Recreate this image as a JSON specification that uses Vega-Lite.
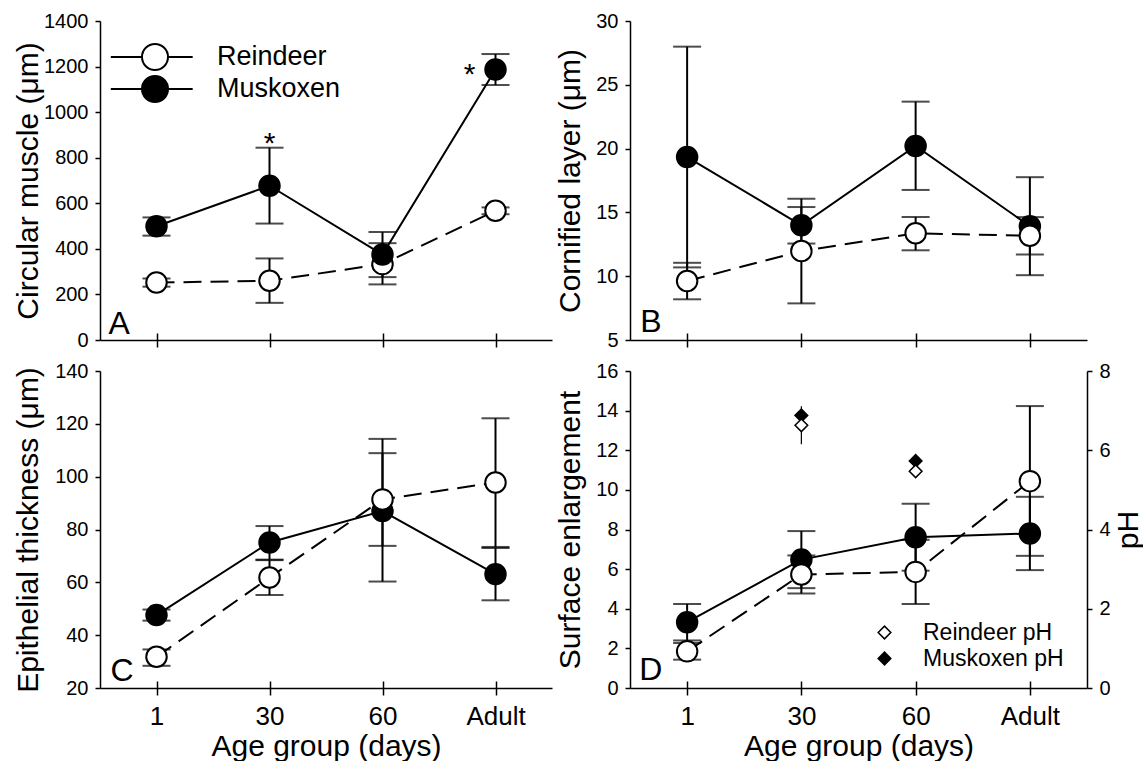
{
  "$schema": "https://vega.github.io/schema/vega-lite/v6.json",
  "background": "white",
  "padding": {"left": 13, "top": 11, "right": 0, "bottom": 0},
  "bounds": "flush",
  "align": "each",
  "columns": 2,
  "spacing": {"row": 31, "column": 78},
  "datasets": {
    "A": [
      {"age": "1", "species": "Reindeer", "mean": 252, "lo": 234, "hi": 270},
      {"age": "30", "species": "Reindeer", "mean": 260, "lo": 163, "hi": 358},
      {"age": "60", "species": "Reindeer", "mean": 333, "lo": 244, "hi": 425},
      {"age": "Adult", "species": "Reindeer", "mean": 567, "lo": 552, "hi": 582},
      {"age": "1", "species": "Muskoxen", "mean": 499, "lo": 458, "hi": 538},
      {"age": "30", "species": "Muskoxen", "mean": 677, "lo": 511, "hi": 844, "sig": "*"},
      {"age": "60", "species": "Muskoxen", "mean": 375, "lo": 276, "hi": 474},
      {"age": "Adult", "species": "Muskoxen", "mean": 1187, "lo": 1119, "hi": 1255, "sig": "*"}
    ],
    "B": [
      {"age": "1", "species": "Reindeer", "mean": 9.62, "lo": 8.19, "hi": 11.05},
      {"age": "30", "species": "Reindeer", "mean": 11.97, "lo": 7.87, "hi": 16.07},
      {"age": "60", "species": "Reindeer", "mean": 13.36, "lo": 12.03, "hi": 14.64},
      {"age": "Adult", "species": "Reindeer", "mean": 13.17, "lo": 11.7, "hi": 14.63},
      {"age": "1", "species": "Muskoxen", "mean": 19.34, "lo": 10.69, "hi": 27.99},
      {"age": "30", "species": "Muskoxen", "mean": 13.99, "lo": 12.56, "hi": 15.42},
      {"age": "60", "species": "Muskoxen", "mean": 20.2, "lo": 16.76, "hi": 23.68},
      {"age": "Adult", "species": "Muskoxen", "mean": 13.92, "lo": 10.08, "hi": 17.76}
    ],
    "C": [
      {"age": "1", "species": "Reindeer", "mean": 31.8, "lo": 28.4, "hi": 34.6},
      {"age": "30", "species": "Reindeer", "mean": 61.8, "lo": 55.2, "hi": 68.4},
      {"age": "60", "species": "Reindeer", "mean": 91.4, "lo": 73.8, "hi": 108.9},
      {"age": "Adult", "species": "Reindeer", "mean": 97.8, "lo": 73.4, "hi": 122.1},
      {"age": "1", "species": "Muskoxen", "mean": 47.6, "lo": 45.5, "hi": 49.7},
      {"age": "30", "species": "Muskoxen", "mean": 75.1, "lo": 68.6, "hi": 81.3},
      {"age": "60", "species": "Muskoxen", "mean": 87.0, "lo": 60.3, "hi": 114.3},
      {"age": "Adult", "species": "Muskoxen", "mean": 63.1, "lo": 53.2, "hi": 73.0}
    ],
    "D": [
      {"age": "1", "species": "Reindeer", "mean": 1.85, "lo": 1.43, "hi": 2.27},
      {"age": "30", "species": "Reindeer", "mean": 5.73, "lo": 4.77, "hi": 6.69},
      {"age": "60", "species": "Reindeer", "mean": 5.86, "lo": 4.24, "hi": 7.48},
      {"age": "Adult", "species": "Reindeer", "mean": 10.44, "lo": 6.67, "hi": 14.23},
      {"age": "1", "species": "Muskoxen", "mean": 3.32, "lo": 2.4, "hi": 4.24},
      {"age": "30", "species": "Muskoxen", "mean": 6.48, "lo": 5.04, "hi": 7.92},
      {"age": "60", "species": "Muskoxen", "mean": 7.61, "lo": 5.92, "hi": 9.3},
      {"age": "Adult", "species": "Muskoxen", "mean": 7.8, "lo": 5.95, "hi": 9.65}
    ],
    "PH": [
      {"age": "30", "series": "Muskoxen pH", "ph": 6.88},
      {"age": "30", "series": "Reindeer pH", "ph": 6.63, "lo": 6.15, "hi": 7.11},
      {"age": "60", "series": "Muskoxen pH", "ph": 5.73},
      {"age": "60", "series": "Reindeer pH", "ph": 5.47}
    ]
  },
  "concat": [
    {
      "width": 452, "height": 319,
      "data": {"name": "A"},
      "resolve": {"axis": {"x": "independent", "y": "independent"}},
      "layer": [
        {"mark": {"type": "rule", "strokeWidth": 2, "color": "black"},
         "encoding": {
           "x": {"field": "age", "type": "ordinal", "scale": {"type": "point", "domain": ["1", "30", "60", "Adult"], "padding": 0.5}, "axis": {"orient": "bottom", "labels": false, "title": null, "tickSize": 7}},
           "y": {"field": "lo", "type": "quantitative", "scale": {"domain": [0, 1400], "nice": false}, "axis": {"orient": "left", "format": "d", "values": [0, 200, 400, 600, 800, 1000, 1200, 1400], "title": "Circular muscle (μm)", "titleX": -63, "titleBaseline": "alphabetic"}},
           "y2": {"field": "hi"}}},
        {"mark": {"type": "tick", "size": 28, "thickness": 2, "color": "black"},
         "encoding": {
           "x": {"field": "age", "type": "ordinal", "axis": {"orient": "bottom", "tickSize": -7, "labels": false, "domain": false, "title": null}},
           "y": {"field": "lo", "type": "quantitative", "axis": null}}},
        {"mark": {"type": "tick", "size": 28, "thickness": 2, "color": "black"},
         "encoding": {
           "x": {"field": "age", "type": "ordinal", "axis": null},
           "y": {"field": "hi", "type": "quantitative", "axis": null}}},
        {"transform": [{"filter": "datum.species === 'Reindeer'"}],
         "mark": {"type": "line", "strokeWidth": 2, "color": "black", "strokeDash": [18, 9]},
         "encoding": {
           "x": {"field": "age", "type": "ordinal", "axis": null},
           "y": {"field": "mean", "type": "quantitative", "axis": null}}},
        {"transform": [{"filter": "datum.species === 'Muskoxen'"}],
         "mark": {"type": "line", "strokeWidth": 2, "color": "black"},
         "encoding": {
           "x": {"field": "age", "type": "ordinal", "axis": null},
           "y": {"field": "mean", "type": "quantitative", "axis": null}}},
        {"mark": {"type": "point", "shape": "circle", "filled": true, "size": 420, "stroke": "black", "strokeWidth": 2, "opacity": 1},
         "encoding": {
           "x": {"field": "age", "type": "ordinal", "axis": null},
           "y": {"field": "mean", "type": "quantitative", "axis": null},
           "order": {"field": "species", "sort": "descending"},
           "fill": {"field": "species", "type": "nominal", "scale": {"domain": ["Reindeer", "Muskoxen"], "range": ["white", "black"]},
             "legend": {"orient": "none", "legendX": 41, "legendY": 22, "title": null, "padding": 0, "symbolSize": 676, "symbolType": "M-3.4,0L-1,0M1,0L2.9,0M1,0A1,1,0,1,1,-1,0A1,1,0,1,1,1,0Z", "symbolStrokeColor": "black", "symbolStrokeWidth": 2, "labelFontSize": 27, "labelColor": "black", "labelOffset": 48, "rowPadding": -2}}}},
        {"transform": [{"filter": "datum.sig && datum.age === '30'"}],
         "mark": {"type": "text", "fontSize": 30, "align": "center", "baseline": "alphabetic", "dy": 5, "color": "black"},
         "encoding": {
           "x": {"field": "age", "type": "ordinal", "axis": null},
           "y": {"field": "hi", "type": "quantitative", "axis": null},
           "text": {"field": "sig"}}},
        {"transform": [{"filter": "datum.sig && datum.age === 'Adult'"}],
         "mark": {"type": "text", "fontSize": 30, "align": "center", "baseline": "alphabetic", "dx": -26, "dy": 14, "color": "black"},
         "encoding": {
           "x": {"field": "age", "type": "ordinal", "axis": null},
           "y": {"field": "mean", "type": "quantitative", "axis": null},
           "text": {"field": "sig"}}},
        {"data": {"values": [{"letter": "A"}]},
         "mark": {"type": "text", "fontSize": 32, "align": "left", "baseline": "alphabetic", "dx": -48, "dy": -6, "color": "black"},
         "encoding": {
           "x": {"datum": "1", "type": "ordinal", "axis": null},
           "y": {"datum": 0, "type": "quantitative", "axis": null},
           "text": {"field": "letter"}}}
      ]
    },
    {
      "width": 457, "height": 319,
      "data": {"name": "B"},
      "resolve": {"axis": {"x": "independent", "y": "independent"}},
      "layer": [
        {"mark": {"type": "rule", "strokeWidth": 2, "color": "black"},
         "encoding": {
           "x": {"field": "age", "type": "ordinal", "scale": {"type": "point", "domain": ["1", "30", "60", "Adult"], "padding": 0.5}, "axis": {"orient": "bottom", "labels": false, "title": null, "tickSize": 7}},
           "y": {"field": "lo", "type": "quantitative", "scale": {"domain": [5, 30], "nice": false, "zero": false}, "axis": {"orient": "left", "values": [5, 10, 15, 20, 25, 30], "title": "Cornified layer (μm)", "titleX": -51, "titleBaseline": "alphabetic"}},
           "y2": {"field": "hi"}}},
        {"mark": {"type": "tick", "size": 28, "thickness": 2, "color": "black"},
         "encoding": {
           "x": {"field": "age", "type": "ordinal", "axis": {"orient": "bottom", "tickSize": -7, "labels": false, "domain": false, "title": null}},
           "y": {"field": "lo", "type": "quantitative", "axis": null}}},
        {"mark": {"type": "tick", "size": 28, "thickness": 2, "color": "black"},
         "encoding": {
           "x": {"field": "age", "type": "ordinal", "axis": null},
           "y": {"field": "hi", "type": "quantitative", "axis": null}}},
        {"transform": [{"filter": "datum.species === 'Reindeer'"}],
         "mark": {"type": "line", "strokeWidth": 2, "color": "black", "strokeDash": [18, 9]},
         "encoding": {
           "x": {"field": "age", "type": "ordinal", "axis": null},
           "y": {"field": "mean", "type": "quantitative", "axis": null}}},
        {"transform": [{"filter": "datum.species === 'Muskoxen'"}],
         "mark": {"type": "line", "strokeWidth": 2, "color": "black"},
         "encoding": {
           "x": {"field": "age", "type": "ordinal", "axis": null},
           "y": {"field": "mean", "type": "quantitative", "axis": null}}},
        {"mark": {"type": "point", "shape": "circle", "filled": true, "size": 420, "stroke": "black", "strokeWidth": 2, "opacity": 1},
         "encoding": {
           "x": {"field": "age", "type": "ordinal", "axis": null},
           "y": {"field": "mean", "type": "quantitative", "axis": null},
           "order": {"field": "species", "sort": "ascending"},
           "fill": {"field": "species", "type": "nominal", "scale": {"domain": ["Reindeer", "Muskoxen"], "range": ["white", "black"]}, "legend": null}}},
        {"data": {"values": [{"letter": "B"}]},
         "mark": {"type": "text", "fontSize": 32, "align": "left", "baseline": "alphabetic", "dx": -47, "dy": -8, "color": "black"},
         "encoding": {
           "x": {"datum": "1", "type": "ordinal", "axis": null},
           "y": {"datum": 5, "type": "quantitative", "axis": null},
           "text": {"field": "letter"}}}
      ]
    },
    {
      "width": 452, "height": 317,
      "data": {"name": "C"},
      "resolve": {"axis": {"x": "independent", "y": "independent"}},
      "layer": [
        {"mark": {"type": "rule", "strokeWidth": 2, "color": "black"},
         "encoding": {
           "x": {"field": "age", "type": "ordinal", "scale": {"type": "point", "domain": ["1", "30", "60", "Adult"], "padding": 0.5}, "axis": {"orient": "bottom", "title": "Age group (days)", "tickSize": 7, "labelAngle": 0, "labelFontSize": 26, "labelPadding": 8, "titlePadding": 2}},
           "y": {"field": "lo", "type": "quantitative", "scale": {"domain": [20, 140], "nice": false, "zero": false}, "axis": {"orient": "left", "values": [20, 40, 60, 80, 100, 120, 140], "title": "Epithelial thickness (μm)", "titleX": -63, "titleBaseline": "alphabetic"}},
           "y2": {"field": "hi"}}},
        {"mark": {"type": "tick", "size": 28, "thickness": 2, "color": "black"},
         "encoding": {
           "x": {"field": "age", "type": "ordinal", "axis": {"orient": "bottom", "tickSize": -7, "labels": false, "domain": false, "title": null}},
           "y": {"field": "lo", "type": "quantitative", "axis": null}}},
        {"mark": {"type": "tick", "size": 28, "thickness": 2, "color": "black"},
         "encoding": {
           "x": {"field": "age", "type": "ordinal", "axis": null},
           "y": {"field": "hi", "type": "quantitative", "axis": null}}},
        {"transform": [{"filter": "datum.species === 'Reindeer'"}],
         "mark": {"type": "line", "strokeWidth": 2, "color": "black", "strokeDash": [18, 9]},
         "encoding": {
           "x": {"field": "age", "type": "ordinal", "axis": null},
           "y": {"field": "mean", "type": "quantitative", "axis": null}}},
        {"transform": [{"filter": "datum.species === 'Muskoxen'"}],
         "mark": {"type": "line", "strokeWidth": 2, "color": "black"},
         "encoding": {
           "x": {"field": "age", "type": "ordinal", "axis": null},
           "y": {"field": "mean", "type": "quantitative", "axis": null}}},
        {"mark": {"type": "point", "shape": "circle", "filled": true, "size": 420, "stroke": "black", "strokeWidth": 2, "opacity": 1},
         "encoding": {
           "x": {"field": "age", "type": "ordinal", "axis": null},
           "y": {"field": "mean", "type": "quantitative", "axis": null},
           "order": {"field": "species", "sort": "ascending"},
           "fill": {"field": "species", "type": "nominal", "scale": {"domain": ["Reindeer", "Muskoxen"], "range": ["white", "black"]}, "legend": null}}},
        {"data": {"values": [{"letter": "C"}]},
         "mark": {"type": "text", "fontSize": 32, "align": "left", "baseline": "alphabetic", "dx": -46, "dy": -7, "color": "black"},
         "encoding": {
           "x": {"datum": "1", "type": "ordinal", "axis": null},
           "y": {"datum": 20, "type": "quantitative", "axis": null},
           "text": {"field": "letter"}}}
      ]
    },
    {
      "width": 457, "height": 317,
      "data": {"name": "D"},
      "resolve": {"scale": {"y": "independent", "fill": "independent"}, "axis": {"x": "independent", "y": "independent"}},
      "layer": [
        {"mark": {"type": "rule", "strokeWidth": 2, "color": "black"},
         "encoding": {
           "x": {"field": "age", "type": "ordinal", "scale": {"type": "point", "domain": ["1", "30", "60", "Adult"], "padding": 0.5}, "axis": {"orient": "bottom", "title": "Age group (days)", "tickSize": 7, "labelAngle": 0, "labelFontSize": 26, "labelPadding": 8, "titlePadding": 2}},
           "y": {"field": "lo", "type": "quantitative", "scale": {"domain": [0, 16], "nice": false}, "axis": {"orient": "left", "values": [0, 2, 4, 6, 8, 10, 12, 14, 16], "title": "Surface enlargement", "titleX": -51, "titleBaseline": "alphabetic"}},
           "y2": {"field": "hi"}}},
        {"mark": {"type": "tick", "size": 28, "thickness": 2, "color": "black"},
         "encoding": {
           "x": {"field": "age", "type": "ordinal", "axis": {"orient": "bottom", "tickSize": -7, "labels": false, "domain": false, "title": null}},
           "y": {"field": "lo", "type": "quantitative", "scale": {"domain": [0, 16], "nice": false}, "axis": null}}},
        {"mark": {"type": "tick", "size": 28, "thickness": 2, "color": "black"},
         "encoding": {
           "x": {"field": "age", "type": "ordinal", "axis": null},
           "y": {"field": "hi", "type": "quantitative", "scale": {"domain": [0, 16], "nice": false}, "axis": null}}},
        {"transform": [{"filter": "datum.species === 'Reindeer'"}],
         "mark": {"type": "line", "strokeWidth": 2, "color": "black", "strokeDash": [18, 9]},
         "encoding": {
           "x": {"field": "age", "type": "ordinal", "axis": null},
           "y": {"field": "mean", "type": "quantitative", "scale": {"domain": [0, 16], "nice": false}, "axis": null}}},
        {"transform": [{"filter": "datum.species === 'Muskoxen'"}],
         "mark": {"type": "line", "strokeWidth": 2, "color": "black"},
         "encoding": {
           "x": {"field": "age", "type": "ordinal", "axis": null},
           "y": {"field": "mean", "type": "quantitative", "scale": {"domain": [0, 16], "nice": false}, "axis": null}}},
        {"mark": {"type": "point", "shape": "circle", "filled": true, "size": 420, "stroke": "black", "strokeWidth": 2, "opacity": 1},
         "encoding": {
           "x": {"field": "age", "type": "ordinal", "axis": null},
           "y": {"field": "mean", "type": "quantitative", "scale": {"domain": [0, 16], "nice": false}, "axis": null},
           "order": {"field": "species", "sort": "ascending"},
           "fill": {"field": "species", "type": "nominal", "scale": {"domain": ["Reindeer", "Muskoxen"], "range": ["white", "black"]}, "legend": null}}},
        {"data": {"values": [{"letter": "D"}]},
         "mark": {"type": "text", "fontSize": 32, "align": "left", "baseline": "alphabetic", "dx": -48, "dy": -8, "color": "black"},
         "encoding": {
           "x": {"datum": "1", "type": "ordinal", "axis": null},
           "y": {"datum": 0, "type": "quantitative", "scale": {"domain": [0, 16], "nice": false}, "axis": null},
           "text": {"field": "letter"}}},
        {"data": {"name": "PH"},
         "transform": [{"filter": "isValid(datum.lo)"}],
         "mark": {"type": "rule", "strokeWidth": 1.2, "color": "black"},
         "encoding": {
           "x": {"field": "age", "type": "ordinal", "axis": null},
           "y": {"field": "lo", "type": "quantitative", "scale": {"domain": [0, 8], "nice": false}, "axis": null},
           "y2": {"field": "hi"}}},
        {"data": {"name": "PH"},
         "mark": {"type": "point", "shape": "diamond", "filled": true, "size": 160, "stroke": "black", "strokeWidth": 1.5, "opacity": 1},
         "encoding": {
           "x": {"field": "age", "type": "ordinal", "axis": null},
           "y": {"field": "ph", "type": "quantitative", "scale": {"domain": [0, 8], "nice": false}, "axis": {"orient": "right", "values": [0, 2, 4, 6, 8], "title": "pH", "titleAngle": 270, "titleX": 50, "titleBaseline": "alphabetic"}},
           "order": {"field": "series", "sort": "ascending"},
           "fill": {"field": "series", "type": "nominal", "scale": {"domain": ["Reindeer pH", "Muskoxen pH"], "range": ["white", "black"]},
             "legend": {"orient": "none", "legendX": 243, "legendY": 250, "title": null, "padding": 0, "symbolType": "diamond", "symbolSize": 160, "symbolStrokeColor": "black", "symbolStrokeWidth": 1.5, "labelFontSize": 23, "labelColor": "black", "labelOffset": 27, "rowPadding": 2}}}}
      ]
    }
  ],
  "config": {
    "font": "Liberation Sans",
    "view": {"stroke": null},
    "axis": {"grid": false, "domainColor": "black", "domainWidth": 1.5, "tickColor": "black", "tickWidth": 1.5, "tickSize": 5, "labelColor": "black", "labelFont": "Liberation Sans", "labelFontSize": 20, "labelPadding": 7, "titleColor": "black", "titleFont": "Liberation Sans", "titleFontSize": 30, "titleFontWeight": "normal"},
    "legend": {"labelFont": "Liberation Sans"},
    "text": {"font": "Liberation Sans"}
  }
}
